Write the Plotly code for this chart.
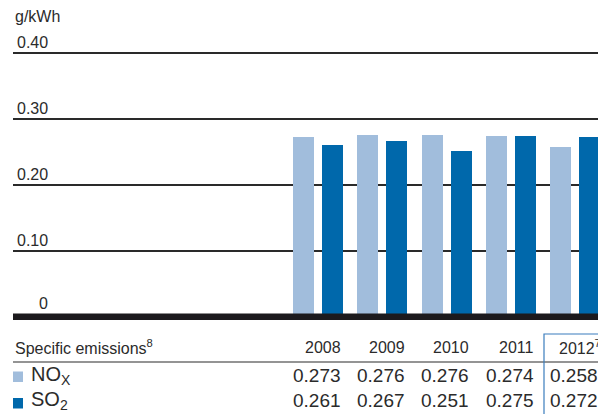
import plotly.graph_objects as go

# ---- data ----
years = [2008, 2009, 2010, 2011, 2012]
year_labels = ["2008", "2009", "2010", "2011", "2012<sup>7</sup>"]
nox = [0.273, 0.276, 0.276, 0.274, 0.258]
so2 = [0.261, 0.267, 0.251, 0.275, 0.272]
tick_vals = [0, 0.10, 0.20, 0.30, 0.40]
tick_text = ["0", "0.10", "0.20", "0.30", "0.40"]
unit_label = "g/kWh"
table_title = "Specific emissions<sup>8</sup>"
series_names = ["NO<sub>X</sub>", "SO<sub>2</sub>"]

# ---- style ----
C_NOX = "#a1bddc"
C_SO2 = "#0068ab"
C_TXT = "#2b2b2b"
C_LINE = "#2a2a2a"
FONT = "Liberation Sans, Arial, sans-serif"

W, H = 598, 414
ML, MR, MT, MB = 13, 0, 30, 94
PW, PH = W - ML - MR, H - MT - MB
STEP = 64.25  # px per year
x_min = years[0] - 305 / STEP
x_max = years[0] + 280 / STEP
y_min = -3 / 660
y_max = 0.4 + 23 / 660

bar_w = 21 / STEP
fig = go.Figure()
fig.add_trace(go.Bar(x=years, y=nox, name="NOx", marker_color=C_NOX,
                     width=bar_w, offset=-25 / STEP, marker_line_width=0))
fig.add_trace(go.Bar(x=years, y=so2, name="SO2", marker_color=C_SO2,
                     width=bar_w, offset=4 / STEP, marker_line_width=0))

def py(pix):
    """pixel y -> paper y"""
    return (H - MB - pix) / PH

def px(pix):
    return (pix - ML) / PW

def xp(xval):
    """data x -> paper x"""
    return (xval - x_min) / (x_max - x_min)

ann = []
# y tick labels above gridlines
for v, t in zip(tick_vals, tick_text):
    ann.append(dict(x=px(50), xref="paper", y=v, yref="y", text=t,
                    xanchor="right", yanchor="bottom", showarrow=False,
                    yshift=(3 if v == 0 else 0),
                    font=dict(family=FONT, size=16, color=C_TXT)))
# unit label
ann.append(dict(x=0, xref="paper", y=py(27), yref="paper", text=unit_label,
                xanchor="left", yanchor="bottom", showarrow=False,
                font=dict(family=FONT, size=16, color=C_TXT)))
# table header
ann.append(dict(x=0, xref="paper", y=py(347), yref="paper", text=table_title,
                xanchor="left", yanchor="middle", showarrow=False,
                font=dict(family=FONT, size=16, color=C_TXT)))
for yr, lab in zip(years, year_labels):
    sup = "sup" in lab
    ann.append(dict(x=xp(yr + 25 / STEP), xref="paper", y=py(347), yref="paper",
                    text=lab, xanchor=("left" if sup else "right"),
                    xshift=(-43 if sup else 0),
                    yanchor="middle", showarrow=False,
                    font=dict(family=FONT, size=16, color=C_TXT)))
# rows
row_y = [375, 400]
for name, vals, yy in zip(series_names, [nox, so2], row_y):
    ann.append(dict(x=px(29), xref="paper", y=py(yy), yref="paper", text=name,
                    xanchor="left", yanchor="middle", showarrow=False,
                    font=dict(family=FONT, size=20, color=C_TXT)))
    for yr, v in zip(years, vals):
        ann.append(dict(x=xp(yr + 25 / STEP), xref="paper", y=py(yy), yref="paper",
                        text=f"{v:.3f}", xanchor="right", yanchor="middle",
                        showarrow=False,
                        font=dict(family=FONT, size=19, color=C_TXT)))

shapes = [
    # thick baseline
    dict(type="line", xref="paper", x0=0, x1=1, yref="y", y0=0, y1=0,
         line=dict(color="#1c1a1d", width=7), layer="above"),
    # table header rule
    dict(type="line", xref="paper", x0=0, x1=1, yref="paper", y0=py(362), y1=py(362),
         line=dict(color=C_LINE, width=1.2)),
    # highlight box for latest year
    dict(type="rect", xref="paper", x0=xp(years[-1] - 31 / STEP), x1=1.2,
         yref="paper", y0=py(334), y1=py(440),
         line=dict(color="#3b7dbd", width=1.2), fillcolor="rgba(0,0,0,0)"),
    # legend squares
    dict(type="rect", xref="paper", x0=px(13), x1=px(23), yref="paper",
         y0=py(371.5), y1=py(382), fillcolor=C_NOX, line=dict(width=0)),
    dict(type="rect", xref="paper", x0=px(13), x1=px(23), yref="paper",
         y0=py(398), y1=py(408.5), fillcolor=C_SO2, line=dict(width=0)),
]

fig.update_layout(
    width=W, height=H,
    margin=dict(l=ML, r=MR, t=MT, b=MB, pad=0),
    paper_bgcolor="white", plot_bgcolor="white",
    showlegend=False,
    bargap=0,
    xaxis=dict(range=[x_min, x_max], showticklabels=False, showgrid=False,
               zeroline=False, showline=False, ticks=""),
    yaxis=dict(range=[y_min, y_max], tickvals=tick_vals[1:], showticklabels=False,
               showgrid=True, gridcolor=C_LINE, gridwidth=1.5,
               zeroline=False, showline=False, ticks=""),
    annotations=ann,
    shapes=shapes,
)

fig.write_html("out.html", config={"displayModeBar": False},
               post_script="document.body.style.margin='0';document.body.style.overflow='hidden';")
